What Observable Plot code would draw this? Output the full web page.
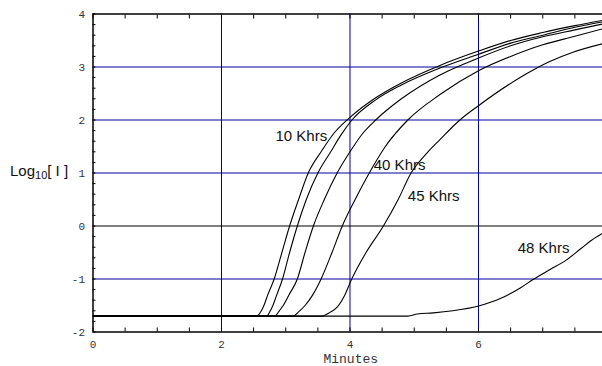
<!DOCTYPE html>
<html>
<head>
<meta charset="utf-8">
<script src="https://cdn.jsdelivr.net/npm/d3@7"></script>
<script src="https://cdn.jsdelivr.net/npm/@observablehq/plot@0.6"></script>
<style>
  html, body { margin: 0; padding: 0; background: white; }
</style>
</head>
<body>
<div id="chart"></div>
<script>
// ---- data ----
const seriesNames = ["10 Khrs", "curve 2", "curve 3", "40 Khrs", "45 Khrs", "48 Khrs"];

const curve1 = [[0,-1.7],[2.55,-1.7],[2.62,-1.6],[2.66,-1.5],[2.72,-1.3],[2.82,-1.0],[2.94,-0.5],[3.06,0],[3.2,0.5],[3.35,1.0],[3.55,1.4],[3.75,1.75],[4.0,2.05],[4.4,2.42],[4.8,2.7],[5.4,3.03],[6.0,3.3],[6.5,3.5],[7.0,3.65],[7.5,3.78],[7.93,3.88]];
const curve2 = [[0,-1.7],[2.7,-1.7],[2.76,-1.6],[2.8,-1.5],[2.86,-1.3],[2.95,-1.0],[3.06,-0.5],[3.18,0],[3.32,0.5],[3.5,1.0],[3.7,1.4],[3.85,1.7],[4.03,2.0],[4.4,2.38],[4.8,2.66],[5.4,2.98],[6.0,3.24],[6.5,3.45],[7.0,3.6],[7.5,3.75],[7.93,3.85]];
const curve3 = [[0,-1.7],[2.83,-1.7],[2.9,-1.6],[2.96,-1.5],[3.05,-1.3],[3.18,-1.0],[3.3,-0.5],[3.43,0],[3.6,0.5],[3.8,1.0],[4.0,1.4],[4.2,1.75],[4.4,2.0],[4.8,2.4],[5.4,2.85],[6.0,3.17],[6.5,3.4],[7.0,3.57],[7.5,3.7],[7.93,3.81]];
const curve4 = [[0,-1.7],[3.12,-1.7],[3.2,-1.62],[3.3,-1.5],[3.42,-1.3],[3.55,-1.0],[3.72,-0.5],[3.88,0],[4.08,0.5],[4.3,1.0],[4.55,1.5],[4.9,2.0],[5.4,2.48],[6.0,2.93],[6.5,3.2],[7.0,3.42],[7.5,3.58],[7.93,3.72]];
const curve5 = [[0,-1.7],[3.56,-1.7],[3.69,-1.63],[3.8,-1.53],[3.92,-1.3],[4.02,-1.02],[4.12,-0.78],[4.25,-0.5],[4.52,0],[4.75,0.5],[4.95,1.0],[5.2,1.38],[5.4,1.63],[5.71,2.0],[6.0,2.27],[6.7,2.84],[7.1,3.1],[7.47,3.28],[7.93,3.44]];
const curve6 = [[0,-1.7],[4.9,-1.7],[5.05,-1.66],[5.3,-1.64],[5.6,-1.6],[6.0,-1.51],[6.34,-1.37],[6.65,-1.17],[6.85,-1.01],[7.1,-0.83],[7.37,-0.64],[7.6,-0.42],[7.76,-0.27],[7.93,-0.14]];

const curves = [curve1, curve2, curve3, curve4, curve5, curve6];

// curve labels
const labelText = ["10 Khrs", "40 Khrs", "45 Khrs", "48 Khrs"];
const labelX = [2.84, 4.37, 4.90, 6.61];
const labelY = [1.69, 1.15, 0.56, -0.41];

// axes
const xTickLabels = [0, 2, 4, 6];
const yTickLabels = [-2, -1, 0, 1, 2, 3, 4];
const xGridValues = [2, 4, 6];
const yGridValues = [-1, 1, 2, 3];
const xMinorTicks = d3.range(0, 8, 0.5);
const yMinorTicks = d3.range(-2, 4.001, 0.2).map(v => +v.toFixed(2));

// ---- build table ----
const rows = curves.flatMap((c, i) => c.map(([x, y]) => ({x, y, series: seriesNames[i]})));
const labels = labelText.map((t, i) => ({text: t, x: labelX[i], y: labelY[i]}));

const navy = "#00009a";

const chart = Plot.plot({
  width: 602,
  height: 366,
  marginLeft: 92.5,
  marginRight: 0,
  marginTop: 13.5,
  marginBottom: 34.5,
  style: {background: "white", fontFamily: "'Liberation Mono', monospace", color: "#222"},
  x: {domain: [0, 7.93]},
  y: {domain: [-2, 4]},
  marks: [
    Plot.ruleX(xGridValues, {stroke: navy, strokeWidth: 1}),
    Plot.ruleY(yGridValues, {stroke: navy, strokeWidth: 1}),
    Plot.ruleY([0], {stroke: "black", strokeWidth: 1}),
    Plot.line(rows, {x: "x", y: "y", z: "series", stroke: "black", strokeWidth: 1.1, curve: "monotone-x", clip: true}),
    Plot.ruleX([0], {stroke: "black", strokeWidth: 1.5}),
    Plot.ruleY([-2, 4], {stroke: "black", strokeWidth: 1.5}),
    // inward minor ticks
    Plot.axisX(xMinorTicks, {anchor: "bottom", tickSize: 4, dy: -4, tickFormat: () => "", label: null, stroke: "black"}),
    Plot.axisX(xMinorTicks, {anchor: "top", tickSize: 4, dy: 4, tickFormat: () => "", label: null, stroke: "black"}),
    Plot.axisY(yMinorTicks, {anchor: "left", tickSize: 3, dx: 3, tickFormat: () => "", label: null, stroke: "black"}),
    // tick labels
    Plot.axisX(xTickLabels, {anchor: "bottom", tickSize: 0, tickPadding: 8, fontSize: 11, label: null, tickFormat: d => String(d), fill: "#333"}),
    Plot.axisY(yTickLabels, {anchor: "left", tickSize: 0, tickPadding: 8, fontSize: 11, label: null, tickFormat: d => String(d), fill: "#333"}),
    Plot.text(["Minutes"], {frameAnchor: "bottom", dy: 26.5, dx: 3, fontSize: 13, fill: "#333", lineAnchor: "middle"}),
    Plot.text(labels, {x: "x", y: "y", text: "text", textAnchor: "start", fontSize: 15, fontFamily: "'Liberation Sans', Arial, sans-serif", fill: "#111"})
  ]
});

// y-axis title with subscript
const svg = d3.select(chart);
const t = svg.append("text")
  .attr("x", 10)
  .attr("y", 176)
  .attr("text-anchor", "start")
  .attr("font-family", "'Liberation Sans', Arial, sans-serif")
  .attr("font-size", 15)
  .attr("fill", "#111");
t.append("tspan").text("Log");
t.append("tspan").attr("font-size", 11).attr("dy", 3).text("10");
t.append("tspan").attr("dy", -3).text("[ I ]");

document.getElementById("chart").appendChild(chart);
</script>
</body>
</html>
